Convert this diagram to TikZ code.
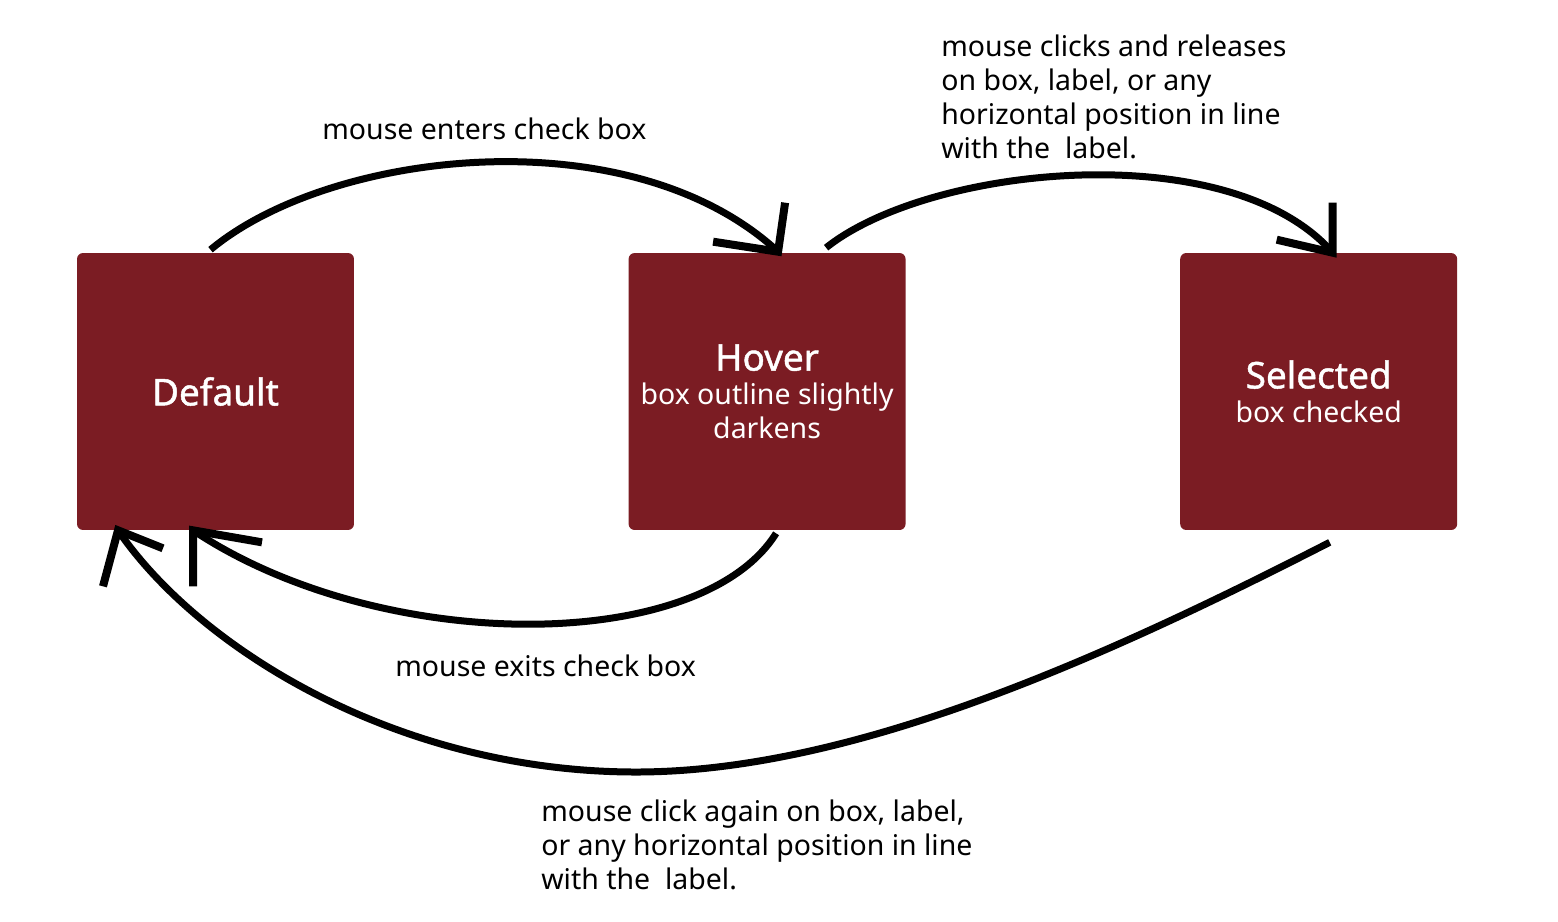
\documentclass[tikz,border=0pt]{standalone}
\usepackage{fontspec}
\setmainfont{Noto Sans}
\newfontfamily\titlefont{Noto Sans}[FakeBold=1.2]
\usepackage{tikz}
\usetikzlibrary{calc,positioning}
\definecolor{StateRed}{HTML}{7B1C23}
\tikzset{
  state/.style={fill=StateRed, rounded corners=0.12cm, minimum size=5.54cm, inner sep=0pt,
    text=white, align=center, font=\fontsize{16.2}{19.3}\selectfont},
  flow/.style={line width=0.14cm},
  barb/.style={line width=0.16cm, miter limit=10},
  note/.style={align=left, inner sep=0pt, font=\fontsize{16.2}{19.3}\selectfont}
}
\newcommand{\statetitle}[1]{{\titlefont\fontsize{21}{25}\selectfont #1}}

\begin{document}
\begin{tikzpicture}[x=0.02cm, y=-0.02cm]
        \useasboundingbox (0,0) rectangle (1558,921);
        % the three states
        \node[state] (def) at (215.5,391.5) {\statetitle{Default}};
        \node[state, right=5.48cm of def] (hov) {\statetitle{Hover}\\[0pt] box outline slightly\\ darkens};
        \node[state, right=5.48cm of hov] (sel) {\statetitle{Selected}\\[0pt] box checked};
        % labels
        \node[note, anchor=west] (lenter) at (322,129) {mouse enters check box};
        \node[note, anchor=west] (lclick) at (941,97) {mouse clicks and releases\\on box, label, or any\\horizontal position in line\\with the\ \ label.};
        \node[note, anchor=west] (lexit) at (395,666) {mouse exits check box};
        \node[note, anchor=west] (lagain) at (541,845) {mouse click again on box, label,\\or any horizontal position in line\\with the\ \ label.};
        % default -> hover
        \draw[flow] ($(def.north)+(-5,-3)$) .. controls (330,150) and (630,115) .. ($(hov.north)+(11,-1)$) coordinate (t1);
        \draw[barb] ($(t1)+(7,-49)$) -- (t1) -- ++(-65,-10);
        % hover -> selected
        \draw[flow] ($(hov.north)+(59,-5)$) .. controls (930,165) and (1230,135) .. ($(sel.north)+(14,0)$) coordinate (t2);
        \draw[barb] ($(t2)+(0,-50)$) -- (t2) -- ++(-56,-13);
        % hover -> default
        \draw[flow] ($(hov.south)+(9,3)$) .. controls (700,655) and (380,655) .. ($(def.south)+(-22.5,0)$) coordinate (t3);
        \draw[barb] ($(t3)+(0,56)$) -- (t3) -- ++(69,12);
        % selected -> default
        \draw[flow] ($(sel.south)+(11,12)$) .. controls (1100,660) and (850,772) .. (636,772)
          .. controls (400,772) and (200,650) .. ($(def.south)+(-97.5,0)$) coordinate (t4);
        \draw[barb] ($(t4)+(-15,56)$) -- (t4) -- ++(45,18);
\end{tikzpicture}
\end{document}
